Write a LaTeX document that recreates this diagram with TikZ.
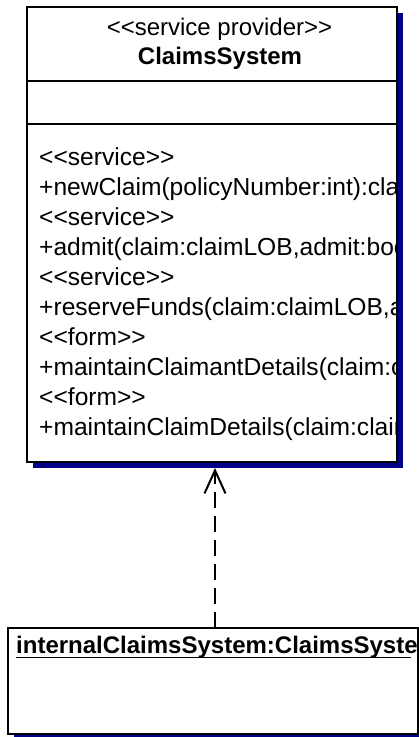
\documentclass[tikz,border=0pt]{standalone}
\usepackage{fontspec}
\setmainfont{Liberation Sans}
\usetikzlibrary{arrows.meta}
\definecolor{shadowblue}{RGB}{0,0,136}
\newcommand{\ltlt}{<\kern0pt<}
\newcommand{\gtgt}{>\kern0pt>}
\tikzset{
  umlbox/.style={draw=black, line width=2pt, fill=white, inner sep=0pt, outer sep=0pt},
  shadowfill/.style={fill=shadowblue},
  optext/.style={anchor=base west, inner sep=0pt, font=\fontsize{24.6}{30}\selectfont},
  titletext/.style={anchor=base, inner sep=0pt, font=\fontsize{24}{30}\selectfont},
  sepline/.style={draw=black, line width=1.5pt},
  depend/.style={draw=black, line width=2pt, dash pattern=on 16pt off 8pt, -{Straight Barb[length=23pt, width=21pt, line width=2pt]}}
}
\begin{document}
\begin{tikzpicture}[x=1pt, y=-1pt]
\useasboundingbox (0,0) rectangle (419,737);
% shadows
\fill[shadowblue] (33,13) rectangle (403,468);
\fill[shadowblue] (14,634) rectangle (424,740);
% top class box
\node[umlbox, minimum width=370pt, minimum height=455pt] (cls) at (212,234.5) {};
\draw[sepline] (cls.west |- 0,81) -- (cls.east |- 0,81);
\draw[sepline] (cls.west |- 0,124) -- (cls.east |- 0,124);
\begin{scope}
\clip (28,8) rectangle (396,461);
\node[titletext] (st) at (219.5,35) {\ltlt service provider\gtgt};
\node[titletext, font=\fontsize{24}{30}\selectfont\bfseries] (nm) at (220,64) {ClaimsSystem};
\node[optext] (o1) at (39,165) {\ltlt service\gtgt};
\node[optext] (o2) at (39,195) {+newClaim(policyNumber:int):claimLOB};
\node[optext] (o3) at (39,225) {\ltlt service\gtgt};
\node[optext] (o4) at (39,255) {+admit(claim:claimLOB,admit:boolean)};
\node[optext] (o5) at (39,285) {\ltlt service\gtgt};
\node[optext] (o6) at (39,315) {+reserveFunds(claim:claimLOB,amount:int)};
\node[optext] (o7) at (39,345) {\ltlt form\gtgt};
\node[optext] (o8) at (39,375) {+maintainClaimantDetails(claim:claimLOB)};
\node[optext] (o9) at (39,405) {\ltlt form\gtgt};
\node[optext] (o10) at (39,435) {+maintainClaimDetails(claim:claimLOB)};
\end{scope}
% bottom object box
\node[umlbox, minimum width=410pt, minimum height=106pt] (obj) at (213,681) {};
\begin{scope}
\clip (9,629) rectangle (417,733);
\node[optext, font=\fontsize{24}{30}\selectfont\bfseries] (on) at (16,653) {internalClaimsSystem:ClaimsSystem};
\draw[line width=1.5pt] (16,657.5) -- (411,657.5);
\end{scope}
% dependency
\coordinate (tip) at (215,468);
\draw[depend] (obj.north -| tip) -- (tip);
\end{tikzpicture}
\end{document}
